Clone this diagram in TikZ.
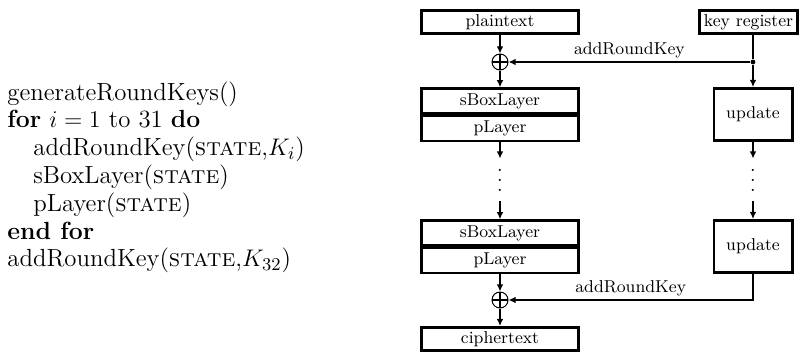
\documentclass[tikz,border=0pt]{standalone}
\usepackage{amsmath}
\usepackage{tikz}
\usetikzlibrary{positioning,arrows.meta}

\newcommand{\kdots}{\vbox{\baselineskip=5pt\lineskiplimit=-10pt\hbox{.}\hbox{.}\hbox{.}}}

\begin{document}
\begin{tikzpicture}
  [x=0.5pt, y=-0.5pt,
   box/.style={draw, line width=1.3pt, inner sep=0pt, font=\fontsize{8.6}{10}\selectfont,
     minimum width=78.7pt, minimum height=11.7pt},
   half/.style={box, minimum height=12.45pt},
   upd/.style={box, minimum width=39.2pt, minimum height=26.2pt},
   xorop/.style={circle, draw, line width=0.5pt, minimum size=8pt, inner sep=0pt,
     path picture={\draw[line width=0.7pt]
       (path picture bounding box.north) -- (path picture bounding box.south)
       (path picture bounding box.west) -- (path picture bounding box.east);}},
   flow/.style={line width=0.8pt, -{Latex[length=3.6pt,width=3.4pt]}},
   lbl/.style={above, inner sep=1.5pt, font=\fontsize{8.6}{10}\selectfont}]
\useasboundingbox (0,0) rectangle (807,355);

\node[align=left, anchor=north west, inner sep=0pt, font=\fontsize{12.4}{13.9}\selectfont]
  (algo) at (7,81)
  {generateRoundKeys()\\
   \textbf{for} $i = 1$ to 31 \textbf{do}\\
   \hspace*{13pt}addRoundKey(\textsc{state},$K_i$)\\
   \hspace*{13pt}sBoxLayer(\textsc{state})\\
   \hspace*{13pt}pLayer(\textsc{state})\\
   \textbf{end for}\\
   addRoundKey(\textsc{state},$K_{32}$)};

\node[box] (plain) at (500,22) {plaintext};
\node[box, minimum width=49.2pt] (keyreg) at (748.5,22) {key register};
\node[xorop] (xorA) at (500,62) {};
\node[circle, fill, inner sep=0pt, minimum size=2.4pt] (tapA) at (753,62) {};
\node[half] (sboxA) at (500,101) {sBoxLayer};
\node[half, below=0pt of sboxA] (permA) {pLayer};
\node[upd] (updA) at (753,114.5) {update};

\node[inner sep=0pt] (dotsL) at (500,180) {\kdots};
\node[inner sep=0pt] (dotsR) at (753,180) {\kdots};

\node[half] (sboxB) at (500,233) {sBoxLayer};
\node[half, below=0pt of sboxB] (permB) {pLayer};
\node[upd] (updB) at (753,246.5) {update};
\node[xorop] (xorB) at (500,300) {};
\node[box] (cipher) at (500,339) {ciphertext};

\draw[flow] (plain) -- (xorA);
\draw[flow] (xorA) -- (sboxA);
\draw[line width=0.8pt] (tapA |- keyreg.south) -- (tapA);
\draw[flow] (tapA) -- node[lbl] {addRoundKey} (xorA);
\draw[flow] (tapA) -- (updA);

\draw[flow, shorten >=5pt] (permA) -- (dotsL);
\draw[flow, shorten <=5pt] (dotsL) -- (sboxB);
\draw[flow, shorten >=5pt] (updA) -- (dotsR);
\draw[flow, shorten <=5pt] (dotsR) -- (updB);

\draw[flow] (permB) -- (xorB);
\draw[flow] (updB) |- node[lbl, pos=0.75] {addRoundKey} (xorB);
\draw[flow] (xorB) -- (cipher);
\end{tikzpicture}
\end{document}
